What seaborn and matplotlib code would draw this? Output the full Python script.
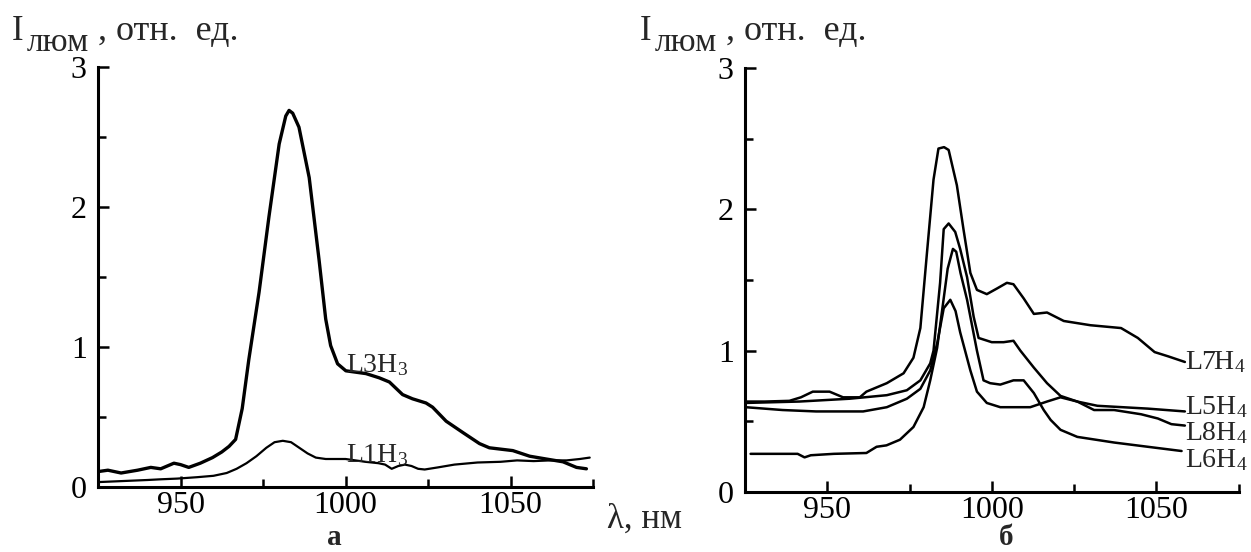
import matplotlib
matplotlib.use("Agg")
import matplotlib.pyplot as plt
import seaborn as sns
import pandas as pd
from matplotlib.ticker import MultipleLocator

# --- данные (λ в нм, I в отн. ед.) ---
# панель а
lam_L3H3 = [925, 928, 932, 937, 941, 944, 948, 950, 952.5, 956, 959.7, 962.5, 964.7,
            966.7, 968.7, 970.7, 973.8, 976.8, 979.9, 981.9, 982.9, 984.0, 985.9,
            989.0, 992.0, 994.0, 995.5, 997.6, 1000.1, 1006.2, 1010.2, 1013.3,
            1017.3, 1020.3, 1024.4, 1026.4, 1030.5, 1035.5, 1040.6, 1043.6,
            1050.7, 1055.8, 1060.8, 1065.9, 1070.0, 1073.0]
I_L3H3 = [0.11, 0.12, 0.10, 0.12, 0.14, 0.13, 0.17, 0.16, 0.14, 0.17, 0.21, 0.25, 0.29,
          0.34, 0.56, 0.91, 1.39, 1.93, 2.45, 2.65, 2.69, 2.67, 2.57,
          2.21, 1.62, 1.20, 1.01, 0.88, 0.83, 0.81, 0.78, 0.75,
          0.66, 0.63, 0.60, 0.57, 0.47, 0.39, 0.31, 0.28,
          0.26, 0.22, 0.20, 0.18, 0.14, 0.13]

lam_L1H3 = [925, 930, 935, 940, 944, 949, 955, 960, 964, 967, 970, 973, 976, 978.5,
            981, 983.5, 986, 988.5, 991, 994, 997, 1000, 1003, 1006, 1010, 1012,
            1014, 1016, 1018, 1020, 1022, 1024, 1028, 1033, 1040, 1047, 1052,
            1057, 1062, 1067, 1071, 1074]
I_L1H3 = [0.035, 0.04, 0.045, 0.05, 0.055, 0.06, 0.07, 0.08, 0.10, 0.13, 0.17, 0.22,
          0.28, 0.32, 0.33, 0.32, 0.28, 0.24, 0.21, 0.20, 0.20, 0.20, 0.19, 0.18,
          0.17, 0.16, 0.13, 0.15, 0.16, 0.15, 0.13, 0.125, 0.14, 0.16, 0.175,
          0.18, 0.19, 0.185, 0.19, 0.19, 0.20, 0.21]

# панель б
lam_L7H4 = [924.7, 931, 938.5, 942, 945.6, 950.7, 954.8, 959.9, 961.9, 968.1, 973.2,
            976.2, 978.3, 980.3, 982.3, 983.8, 985.5, 986.9, 989.4, 991.4, 993.5,
            995.5, 998.5, 1001.6, 1004.6, 1006.6, 1009.7, 1012.8, 1016.8, 1021.9,
            1030, 1039.3, 1044.4, 1049.5, 1053.6, 1058.7]
I_L7H4 = [0.64, 0.64, 0.645, 0.67, 0.71, 0.71, 0.67, 0.67, 0.71, 0.77, 0.84,
          0.95, 1.16, 1.69, 2.21, 2.43, 2.44, 2.42, 2.17, 1.86, 1.55,
          1.43, 1.40, 1.44, 1.48, 1.47, 1.37, 1.26, 1.27, 1.21,
          1.18, 1.16, 1.09, 0.99, 0.96, 0.92]

lam_L8H4 = [925, 941.5, 956.8, 968.1, 974.2, 978.3, 981.3, 982.3, 984.3, 985.4, 986.9,
            988.9, 990.4, 992.5, 994.5, 996.0, 1000, 1003.6, 1006.6, 1008.7, 1012.8,
            1016.8, 1020.9, 1026, 1031.1, 1037.2, 1045.4, 1050.5, 1054.6, 1058.7]
I_L8H4 = [0.63, 0.64, 0.66, 0.685, 0.72, 0.79, 0.91, 1.0, 1.48, 1.86, 1.90,
          1.84, 1.72, 1.52, 1.24, 1.09, 1.06, 1.06, 1.07, 1.00, 0.88,
          0.77, 0.68, 0.64, 0.58, 0.58, 0.55, 0.52, 0.48, 0.47]

lam_L6H4 = [926.7, 935, 941, 943.1, 945, 952, 961.9, 965, 968, 972.1, 976.2, 979.3,
            981.3, 983.4, 985, 986.6, 988.2, 989.2, 990.5, 992.5, 995.5, 997.5,
            999.5, 1002.6, 1006.6, 1009.7, 1012.8, 1015.8, 1017.9, 1020.9, 1026,
            1037.2, 1047.4, 1057.7]
I_L6H4 = [0.27, 0.27, 0.27, 0.245, 0.26, 0.27, 0.276, 0.32, 0.33, 0.37, 0.46, 0.60,
          0.79, 1.02, 1.30, 1.58, 1.72, 1.70, 1.55, 1.36, 1.00, 0.79,
          0.77, 0.76, 0.79, 0.79, 0.70, 0.58, 0.51, 0.44, 0.39,
          0.35, 0.32, 0.29]

lam_L5H4 = [925.2, 936.4, 946.6, 960.9, 968.1, 974.2, 978.3, 981.3, 983.4, 985.4,
            987.4, 989.0, 990.4, 993.5, 995.5, 998.5, 1002.6, 1011.7, 1016.8,
            1020.9, 1026, 1032.1, 1047.4, 1058.7]
I_L5H4 = [0.60, 0.58, 0.57, 0.57, 0.60, 0.66, 0.73, 0.86, 1.05, 1.30,
          1.36, 1.28, 1.13, 0.86, 0.71, 0.63, 0.60, 0.60, 0.64,
          0.67, 0.64, 0.61, 0.59, 0.57]

W, H = 1251, 552


def px(x, y):
    """пиксели исходной картинки -> доли фигуры"""
    return x / W, 1 - y / H


def оформить(ax):
    ax.set_xlim(925, 1075)
    ax.set_ylim(0, 3)
    ax.xaxis.set_major_locator(MultipleLocator(50))
    ax.xaxis.set_minor_locator(MultipleLocator(25))
    ax.yaxis.set_major_locator(MultipleLocator(1))
    ax.yaxis.set_minor_locator(MultipleLocator(0.5))
    ax.tick_params(which='both', direction='in', width=1.8, colors='black')
    ax.tick_params(which='major', length=8, labelsize=23)
    ax.tick_params(which='minor', length=6)
    ax.tick_params(axis='x', pad=3)
    ax.tick_params(axis='y', pad=8)
    for s in ['top', 'right']:
        ax.spines[s].set_visible(False)
    for s in ['left', 'bottom']:
        ax.spines[s].set_linewidth(2.2)
        ax.spines[s].set_color('black')
    ax.set_xlabel('')
    ax.set_ylabel('')


sns.set_style("ticks")
plt.rcParams['font.family'] = ['Liberation Serif', 'DejaVu Serif']
plt.rcParams['mathtext.fontset'] = 'custom'
plt.rcParams['mathtext.rm'] = 'Liberation Serif'
plt.rcParams['mathtext.it'] = 'Liberation Serif'

fig = plt.figure(figsize=(W / 100, H / 100), dpi=100)
ax_a = fig.add_axes([98 / W, (H - 487) / H, 495 / W, (487 - 67) / H])
ax_b = fig.add_axes([745 / W, (H - 492) / H, 493.5 / W, (492 - 68) / H])

# панель а
sns.lineplot(x=lam_L3H3, y=I_L3H3, ax=ax_a, color='black', lw=2.4, sort=False)
sns.lineplot(x=lam_L1H3, y=I_L1H3, ax=ax_a, color='black', lw=1.6, sort=False)
оформить(ax_a)
ax_a.text(1000.2, 0.82, 'L3H$_3$', fontsize=20, va='baseline')
ax_a.text(1000.2, 0.18, 'L1H$_3$', fontsize=20, va='baseline')

# панель б
for lam, I in [(lam_L7H4, I_L7H4), (lam_L8H4, I_L8H4),
               (lam_L6H4, I_L6H4), (lam_L5H4, I_L5H4)]:
    sns.lineplot(x=lam, y=I, ax=ax_b, color='black', lw=1.8, sort=False)
оформить(ax_b)
for name, yb in [('L7H$_4$', 0.87), ('L5H$_4$', 0.554),
                 ('L8H$_4$', 0.366), ('L6H$_4$', 0.178)]:
    ax_b.text(1058.8, yb, name, fontsize=20, va='baseline', clip_on=False)

# подписи осей
for x0 in [12, 640]:
    fig.text(*px(x0, 40), 'I', fontsize=25, va='baseline')
    fig.text(*px(x0 + 15, 51), 'люм', fontsize=24, va='baseline')
    fig.text(*px(x0 + 86, 40), ', отн.  ед.', fontsize=26, va='baseline')

fig.text(*px(607, 528), 'λ, нм', fontsize=25, va='baseline')
fig.text(*px(334, 551), 'а', fontsize=21, fontweight='bold', ha='center', va='bottom')
fig.text(*px(1006, 551), 'б', fontsize=21, fontweight='bold', ha='center', va='bottom')

fig.savefig('out.png', dpi=100)
